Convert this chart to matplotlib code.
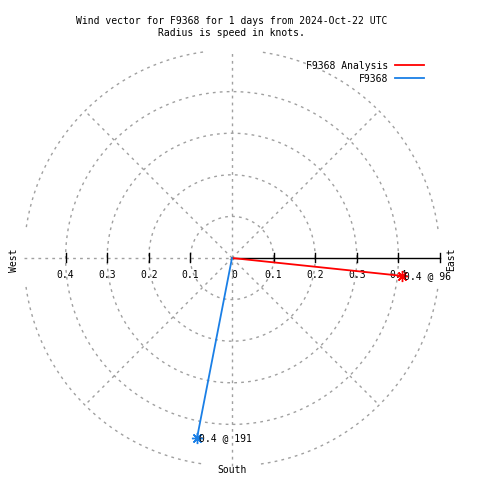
import numpy as np
import matplotlib
matplotlib.use("Agg")
import matplotlib.pyplot as plt

# ---- data ----
series_names = ["F9368 Analysis", "F9368"]
speeds = [0.41, 0.44]          # knots
directions = [96, 191]         # degrees (compass)
speed_labels = ["0.4", "0.4"]
series_colors = ["#ff0000", "#1a7fe6"]
ring_values = [0.1, 0.2, 0.3, 0.4, 0.5]
tick_values = [-0.4, -0.3, -0.2, -0.1, 0.0, 0.1, 0.2, 0.3, 0.4]
tick_labels = ["0.4", "0.3", "0.2", "0.1", "0", "0.1", "0.2", "0.3", "0.4"]
title_lines = ["Wind vector for F9368 for 1 days from 2024-Oct-22 UTC",
               "Radius is speed in knots."]

FONT = "DejaVu Sans Mono"
FS = 7.0
W, H = 480, 480
cx, cy = 232.0, 258.0   # pixel centre
scale = 416.0           # pixels per knot

fig = plt.figure(figsize=(W / 100, H / 100), dpi=100)
ax = fig.add_axes([0, 0, 1, 1])
ax.set_xlim(-cx / scale, (W - cx) / scale)
ax.set_ylim(-(H - cy) / scale, cy / scale)
ax.axis("off")

px = 1.0 / scale
grid_kw = dict(color="#a0a0a0", lw=1.0, linestyle=(0, (2, 3)), zorder=1)
rmax = ring_values[-1]

# rings
for r in ring_values:
    if r < rmax:
        t = np.linspace(0, 2 * np.pi, 400)
        ax.plot(r * np.cos(t), r * np.sin(t), **grid_kw)
    else:
        for c in [0, 90, 180, 270]:
            t = np.radians(np.linspace(c + 8, c + 82, 200))
            ax.plot(r * np.cos(t), r * np.sin(t), **grid_kw)

# spokes
for a in [45, 135, 225, 315]:
    ax.plot([0, rmax * np.cos(np.radians(a))], [0, rmax * np.sin(np.radians(a))], **grid_kw)
ax.plot([0, 0], [-rmax, rmax], **grid_kw)
ax.plot([-rmax, 0], [0, 0], **grid_kw)

# black radial axis
ax.plot([0, rmax], [0, 0], color="black", lw=1.0, zorder=2)
for v in tick_values + [rmax]:
    if v != 0:
        ax.plot([v, v], [-4 * px, 5 * px], color="black", lw=1.0, zorder=2)
for v, lab in zip(tick_values, tick_labels):
    ax.text(v + (2 * px if v == 0 else 0), -17 * px, lab, ha="center", va="center",
            fontsize=FS, family=FONT, zorder=3)

# direction labels
ax.text(0, -212 * px, "South", ha="center", va="center", fontsize=FS, family=FONT)
ax.text(219 * px, -1 * px, "East", ha="center", va="center", rotation=90, fontsize=FS, family=FONT)
ax.text(-218 * px, -2 * px, "West", ha="center", va="center", rotation=90, fontsize=FS, family=FONT)

# vectors
handles = []
for name, s, d, sl, col in zip(series_names, speeds, directions, speed_labels, series_colors):
    x = s * np.sin(np.radians(d))
    y = s * np.cos(np.radians(d))
    h, = ax.plot([0, x], [0, y], color=col, lw=1.3, zorder=4, label=name)
    ax.plot([x], [y], color=col, marker=(8, 2, 0), markersize=8, mew=1.0, zorder=5)
    ax.text(x + 2 * px, y, f"{sl} @ {d}", ha="left", va="center", fontsize=FS, family=FONT, zorder=6)
    handles.append(h)

leg = ax.legend(handles=handles, loc="upper right", bbox_to_anchor=(429 / W, 1 - 56 / H),
                bbox_transform=fig.transFigure, frameon=False, markerfirst=False,
                handlelength=3.0, handletextpad=0.7, labelspacing=0.28, borderpad=0,
                prop={"family": FONT, "size": FS})

fig.text(231.5 / W, 1 - 20.5 / H, title_lines[0], ha="center", va="center", fontsize=FS, family=FONT)
fig.text(231.5 / W, 1 - 33 / H, title_lines[1], ha="center", va="center", fontsize=FS, family=FONT)

fig.savefig("out.png", dpi=100)
